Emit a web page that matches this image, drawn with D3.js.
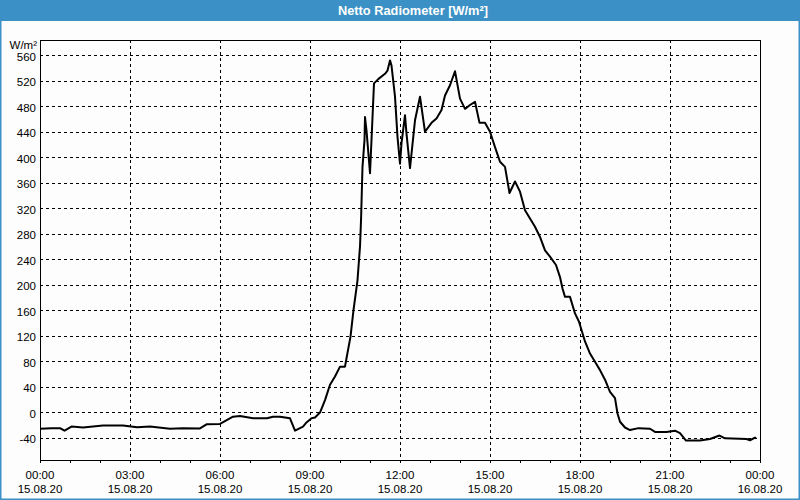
<!DOCTYPE html>
<html>
<head>
<meta charset="utf-8">
<script src="https://cdn.jsdelivr.net/npm/d3@7"></script>
<style>
  body { margin: 0; background: #fcfdfc; }
  svg { display: block; font-family: "Liberation Sans", Arial, sans-serif; }
</style>
</head>
<body>
<svg id="chart"></svg>
<script>
// measurement times (15.08.20) and net radiation values in W/m²
var times = ["00:00", "00:23", "00:40", "00:49", "01:03", "01:26", "02:06", "02:46", "03:14", "03:40",
  "04:20", "04:46", "05:20", "05:33", "06:00", "06:26", "06:40", "07:06", "07:34", "07:46",
  "08:00", "08:20", "08:30", "08:46", "08:53", "09:03", "09:10", "09:20", "09:30", "09:40",
  "09:50", "10:00", "10:10", "10:13", "10:21", "10:27", "10:35", "10:40", "10:42", "10:45",
  "10:49", "10:50", "10:53", "11:00", "11:03", "11:08", "11:17", "11:30", "11:35", "11:40",
  "11:43", "11:50", "11:55", "12:00", "12:03", "12:10", "12:13", "12:20", "12:30", "12:40",
  "12:50", "13:03", "13:13", "13:23", "13:30", "13:40", "13:50", "14:00", "14:10", "14:20",
  "14:30", "14:39", "14:50", "15:00", "15:10", "15:20", "15:30", "15:39", "15:50", "16:00",
  "16:10", "16:20", "16:30", "16:40", "16:50", "17:00", "17:12", "17:20", "17:25", "17:30",
  "17:40", "17:50", "17:58", "18:10", "18:20", "18:30", "18:40", "18:50", "19:00", "19:10",
  "19:15", "19:20", "19:30", "19:40", "19:57", "20:20", "20:30", "20:53", "21:10", "21:20",
  "21:32", "22:00", "22:20", "22:39", "22:50", "23:33", "23:40", "23:50", "23:52"];

var values = [-26, -25, -25, -29, -22.5, -24, -21, -21, -23.5, -22.5,
  -26, -25, -25.5, -19, -18.5, -7, -6, -9.5, -9.5, -7,
  -7, -9.5, -29, -22.5, -16, -9.5, -8.4, -0.5, 19, 43,
  56, 71.5, 71.5, 84.6, 118.5, 160, 207, 260, 300, 385,
  427, 463, 442, 375, 427, 516, 523, 531, 536, 552,
  544, 495, 432, 390, 422, 466, 437, 383, 458, 495,
  440, 454, 461, 474, 497, 513, 535, 492, 476, 482,
  487, 454, 454, 440, 416, 393, 385, 344, 362, 346,
  317, 304, 291, 275, 254, 244, 231, 212, 194, 181,
  181, 155, 142, 111, 92, 79, 66, 51, 32, 22,
  -2, -15, -24, -28, -25, -26, -31, -31, -29, -33,
  -44.5, -44.5, -42, -36.6, -41, -42, -44, -40, -41];

var yTicks = [-40, 0, 40, 80, 120, 160, 200, 240, 280, 320, 360, 400, 440, 480, 520, 560];
var xTickTimes = ["00:00", "03:00", "06:00", "09:00", "12:00", "15:00", "18:00", "21:00", "00:00"];
var xTickDates = ["15.08.20", "15.08.20", "15.08.20", "15.08.20", "15.08.20", "15.08.20", "15.08.20", "15.08.20", "16.08.20"];

var WIDTH = 800, HEIGHT = 500;
var LEFT = 40, RIGHT = 760, TOP = 40, BOTTOM = 460;
var BLUE = "#3b91c5";

var parseTime = d3.timeParse("%d.%m.%y %H:%M");
var start = parseTime("15.08.20 00:00"),
    end = parseTime("16.08.20 00:00");

var data = times.map(function(t, i) {
  return { date: parseTime("15.08.20 " + t), value: values[i] };
});

var x = d3.scaleTime().domain([start, end]).range([LEFT, RIGHT]);
var y = d3.scaleLinear().domain([-75, 584]).range([BOTTOM, TOP]);

var svg = d3.select("#chart")
    .attr("width", WIDTH)
    .attr("height", HEIGHT);

svg.append("rect")
    .attr("width", WIDTH)
    .attr("height", HEIGHT)
    .attr("fill", "#fcfdfc");

// title bar
svg.append("rect")
    .attr("width", WIDTH)
    .attr("height", 21)
    .attr("fill", BLUE);

svg.append("text")
    .attr("x", 413)
    .attr("y", 15)
    .attr("text-anchor", "middle")
    .attr("fill", "#fff")
    .style("font-size", "12.8px")
    .style("font-weight", "bold")
    .text("Netto Radiometer [W/m²]");

// window frame
svg.append("rect")
    .attr("x", 0.75)
    .attr("y", 0.75)
    .attr("width", WIDTH - 1.5)
    .attr("height", HEIGHT - 1.5)
    .attr("fill", "none")
    .attr("stroke", BLUE)
    .attr("stroke-width", 1.5);

// horizontal grid + y labels
var grid = svg.append("g").attr("shape-rendering", "crispEdges");

grid.selectAll(".hgrid")
    .data(yTicks)
  .enter().append("line")
    .attr("class", "hgrid")
    .attr("x1", LEFT)
    .attr("x2", RIGHT)
    .attr("y1", function(d) { return Math.round(y(d)) + 0.5; })
    .attr("y2", function(d) { return Math.round(y(d)) + 0.5; })
    .attr("stroke", "#000")
    .attr("stroke-dasharray", "3,3");

svg.selectAll(".ylab")
    .data(yTicks)
  .enter().append("text")
    .attr("class", "ylab")
    .attr("x", 36)
    .attr("y", function(d) { return y(d) + 5.5; })
    .attr("text-anchor", "end")
    .style("font-size", "11.5px")
    .attr("fill", "#000")
    .text(function(d) { return d; });

svg.append("text")
    .attr("x", 37)
    .attr("y", 49)
    .attr("text-anchor", "end")
    .style("font-size", "11.5px")
    .text("W/m²");

// vertical grid every 3 hours (inner ones only)
var majorTicks = x.ticks(d3.timeHour.every(3));
grid.selectAll(".vgrid")
    .data(majorTicks.slice(1, -1))
  .enter().append("line")
    .attr("class", "vgrid")
    .attr("x1", function(d) { return Math.round(x(d)) + 0.5; })
    .attr("x2", function(d) { return Math.round(x(d)) + 0.5; })
    .attr("y1", TOP)
    .attr("y2", BOTTOM)
    .attr("stroke", "#000")
    .attr("stroke-dasharray", "3,3");

// x axis: hourly ticks, labels every 3 hours
var xAxis = d3.axisBottom(x)
    .ticks(d3.timeHour.every(1))
    .tickSize(3)
    .tickFormat("");

svg.append("g")
    .attr("transform", "translate(0," + BOTTOM + ")")
    .attr("shape-rendering", "crispEdges")
    .call(xAxis)
    .call(function(g) { g.select(".domain").remove(); });

var xlab = svg.selectAll(".xlab")
    .data(majorTicks)
  .enter().append("g")
    .attr("class", "xlab")
    .attr("transform", function(d) { return "translate(" + x(d) + ",0)"; });

xlab.append("text")
    .attr("y", 479)
    .attr("text-anchor", "middle")
    .style("font-size", "11.5px")
    .text(function(d, i) { return xTickTimes[i]; });

xlab.append("text")
    .attr("y", 493)
    .attr("text-anchor", "middle")
    .style("font-size", "11.5px")
    .text(function(d, i) { return xTickDates[i]; });

// plot frame
svg.append("rect")
    .attr("x", LEFT + 0.5)
    .attr("y", TOP + 0.5)
    .attr("width", RIGHT - LEFT)
    .attr("height", BOTTOM - TOP)
    .attr("fill", "none")
    .attr("stroke", "#000")
    .attr("shape-rendering", "crispEdges");

// data line
var line = d3.line()
    .x(function(d) { return x(d.date); })
    .y(function(d) { return y(d.value); });

svg.append("path")
    .datum(data)
    .attr("d", line)
    .attr("fill", "none")
    .attr("stroke", "#000")
    .attr("stroke-width", 2)
    .attr("stroke-linejoin", "round");
</script>
</body>
</html>
